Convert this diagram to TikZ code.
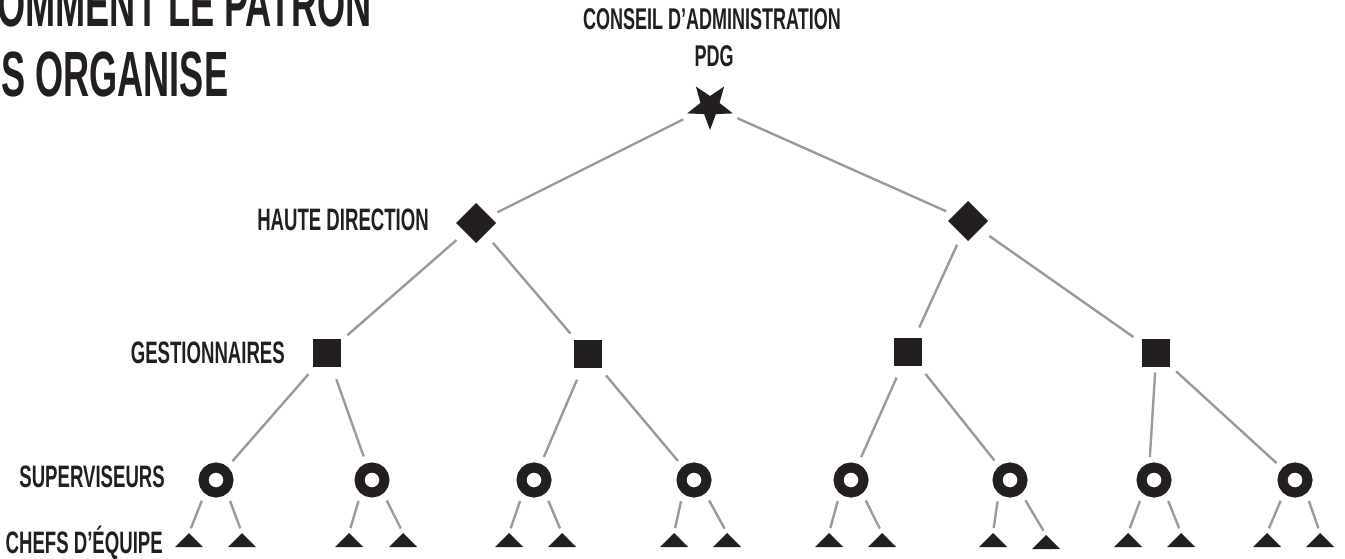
\documentclass[tikz,border=0pt]{standalone}
\usepackage{fontspec}
\setmainfont{Liberation Sans}[FakeStretch=0.6]
\newfontfamily\titlefont{Liberation Sans}[FakeStretch=0.565]
\usetikzlibrary{shapes.geometric}
\definecolor{ink}{HTML}{231F20}
\definecolor{wire}{HTML}{9B9B9B}
\tikzset{
  lbl/.style={font=\bfseries\fontsize{31}{32}\selectfont, text=ink, inner sep=0pt},
  toplbl/.style={font=\bfseries\fontsize{30}{32}\selectfont, text=ink, inner sep=0pt},
  ttl/.style={font=\titlefont\bfseries\fontsize{64}{66}\selectfont, text=ink, inner sep=0pt},
  starnode/.style={star, star points=5, star point ratio=2.4, shape border rotate=180,
    minimum size=48pt, fill=ink, inner sep=0pt, outer sep=0pt},
  dia/.style={diamond, minimum width=40pt, minimum height=40pt, fill=ink, inner sep=0pt, outer sep=0pt},
  sq/.style={rectangle, minimum size=28pt, fill=ink, inner sep=0pt, outer sep=0pt},
  ring/.style={circle, draw=ink, line width=10pt, minimum size=25pt, inner sep=0pt},
  link/.style={draw=wire, line width=2.4pt},
  topl/.style={link, shorten <=30pt, shorten >=24pt},
  midl/.style={link, shorten <=26pt, shorten >=27pt},
  lowl/.style={link, shorten <=28pt, shorten >=25pt},
  leafl/.style={link, shorten <=8pt, shorten >=5pt},
}
\begin{document}
\begin{tikzpicture}[x=1pt, y=-1pt]
\useasboundingbox (0,0) rectangle (1345,559);
\fill[white] (0,0) rectangle (1345,559);

% title (cropped in the reference)
\node[ttl, anchor=base east] (t1) at (372,27) {OMMENT LE PATRON};
\node[ttl, anchor=base west] (t2) at (1,97) {S ORGANISE};

% labels
\node[toplbl, anchor=base] (lconseil) at (712,30) {CONSEIL D’ADMINISTRATION};
\node[toplbl, anchor=base] (lpdg) at (714,67) {PDG};
\node[lbl, anchor=base east] (lhaute) at (429,230) {HAUTE DIRECTION};
\node[lbl, anchor=base east] (lgest) at (285,363) {GESTIONNAIRES};
\node[lbl, anchor=base east] (lsup) at (165,487) {SUPERVISEURS};
\node[lbl, anchor=base east] (lchef) at (163,553) {CHEFS D’ÉQUIPE};

% shapes
\node[starnode] (ceo) at (710,106) {};
\node[dia] (d1) at (476,223) {};
\node[dia] (d2) at (968,221) {};
\node[sq] (s1) at (327,353) {};
\node[sq] (s2) at (588,354) {};
\node[sq] (s3) at (908,352) {};
\node[sq] (s4) at (1155.5,352.5) {};

\foreach \i/\x/\la/\lb/\ly in {1/216/189/242/533, 2/372/349/403/533, 3/534/509/562/533, 4/694/674/727/533,
                               5/851/829/882/533, 6/1010/993/1046/535, 7/1154/1128/1181/533, 8/1295/1267/1320/533}{
  \node[ring] (c\i) at (\x,480) {};
  \coordinate (a\i) at (\la,533);
  \coordinate (b\i) at (\lb,\ly);
  \fill[ink] (a\i) -- ++(-14,14) -- ++(28,0) -- cycle;
  \fill[ink] (b\i) -- ++(-14,14) -- ++(28,0) -- cycle;
  \draw[leafl] (c\i.230) -- (a\i);
  \draw[leafl] (c\i.310) -- (b\i);
}

% connectors
\draw[topl] (ceo.center) -- (d1.center);
\draw[topl] (ceo.center) -- (d2.center);
\draw[midl] (d1.center) -- (s1.center);
\draw[midl] (d1.center) -- (s2.center);
\draw[midl] (d2.center) -- (s3.center);
\draw[midl] (d2.center) -- (s4.center);
\draw[lowl] (s1.center) -- (c1.center);
\draw[lowl] (s1.center) -- (c2.center);
\draw[lowl] (s2.center) -- (c3.center);
\draw[lowl] (s2.center) -- (c4.center);
\draw[lowl] (s3.center) -- (c5.center);
\draw[lowl] (s3.center) -- (c6.center);
\draw[link, shorten <=6pt, shorten >=6pt] (s4.south) -- (c7.105);
\draw[lowl] (s4.center) -- (c8.center);
\end{tikzpicture}
\end{document}
